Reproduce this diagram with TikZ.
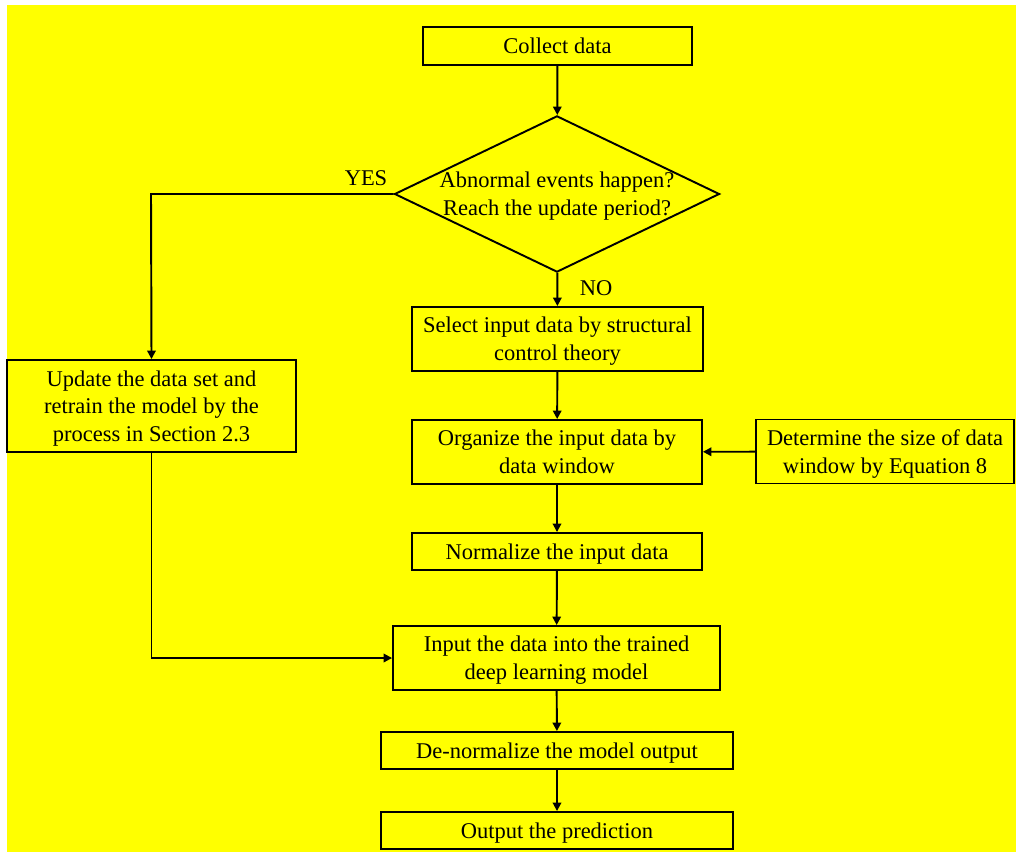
\documentclass[tikz,border=0pt]{standalone}
\usepackage{fontspec}
\setmainfont{Liberation Serif}
\usetikzlibrary{arrows, arrows.meta, shapes.geometric}
\definecolor{flowyellow}{RGB}{255,255,0}

\begin{document}
\begin{tikzpicture}[x=0.02cm, y=-0.02cm, font=\fontsize{12.8}{15.8}\selectfont,
	flowbox/.style={draw, line width=1.1pt, align=center, inner sep=2pt, text depth=0pt},
	decision/.style={draw, diamond, line width=1.1pt, align=center, aspect=2.08, inner sep=0pt, text depth=0pt, minimum width=6.48cm, minimum height=3.12cm},
	link/.style={line width=1.1pt, -{Triangle[length=1.7mm, width=1.7mm]}}]
	\useasboundingbox (0,0) rectangle (1016,852);
	\fill[white] (0,0) rectangle (1016,852);
	\fill[flowyellow] (7,5) rectangle (1016,852);			%background

	\node[flowbox, minimum width=5.38cm, minimum height=0.76cm] (collect) at (557.5,46) {Collect data};
	\node[decision] (decide) at (557,194) {Abnormal events happen?\\Reach the update period?};
	\node[flowbox, minimum width=5.82cm, minimum height=1.28cm] (select) at (557.5,339) {Select input data by structural\\control theory};
	\node[flowbox, minimum width=5.8cm, minimum height=1.28cm] (organize) at (557,452) {Organize the input data by\\data window};
	\node[flowbox, minimum width=5.16cm, minimum height=1.28cm] (winsize) at (885,451.5) {Determine the size of data\\window by Equation 8};
	\node[flowbox, minimum width=5.8cm, minimum height=0.74cm] (normalize) at (557,551.5) {Normalize the input data};
	\node[flowbox, minimum width=6.54cm, minimum height=1.28cm] (feed) at (556.5,658) {Input the data into the trained\\deep learning model};
	\node[flowbox, minimum width=7.04cm, minimum height=0.74cm] (denorm) at (557,750.5) {De-normalize the model output};
	\node[flowbox, minimum width=7.04cm, minimum height=0.74cm] (predict) at (557,830.5) {Output the prediction};
	\node[flowbox, minimum width=5.78cm, minimum height=1.84cm] (update) at (151.5,406) {Update the data set and\\retrain the model by the\\process in Section 2.3};

	\coordinate (yescorner) at (151,194);					%YES branch corner
	\draw[link] (collect) -- (decide);
	\draw[link] (decide) -- (select) node[pos=0.45, right=9pt] (no) {NO};
	\draw[link] (decide.west) -- (yescorner) -- (update.north);
	\node (yes) at (366,178) {YES};
	\draw[link] (select) -- (organize);
	\draw[link] (winsize) -- (organize);
	\draw[link] (organize) -- (normalize);
	\draw[link] (normalize) -- (feed);
	\draw[link] (update.south) |- (feed.west);
	\draw[link] (feed) -- (denorm);
	\draw[link] (denorm) -- (predict);
\end{tikzpicture}
\end{document}
